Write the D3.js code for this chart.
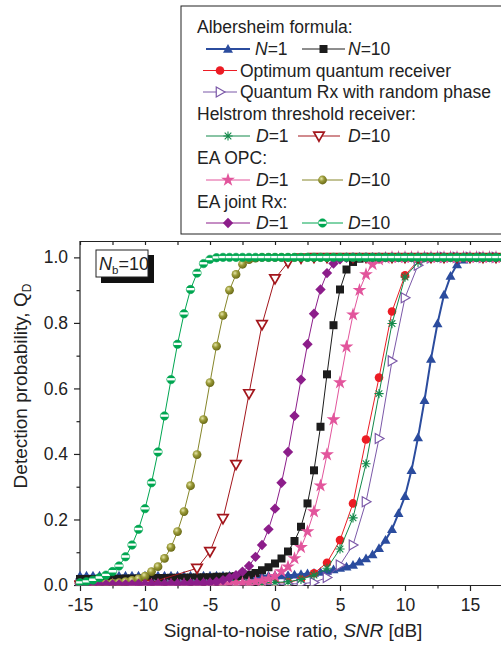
<!DOCTYPE html>
<html>
<head>
<meta charset="utf-8">
<script src="https://cdn.jsdelivr.net/npm/d3@7"></script>
<style>
  body { margin: 0; background: #fff; }
  svg { display: block; font-family: "Liberation Sans", Arial, sans-serif; }
</style>
</head>
<body>
<div id="chart"></div>
<script>
// SNR grids [dB]
var snrFine = [
  -15, -14.5, -14, -13.5, -13, -12.5, -12, -11.5, -11, -10.5,
  -10, -9.5, -9, -8.5, -8, -7.5, -7, -6.5, -6, -5.5,
  -5, -4.5, -4, -3.5, -3, -2.5, -2, -1.5, -1, -0.5,
  0, 0.5, 1, 1.5, 2, 2.5, 3, 3.5, 4, 4.5,
  5, 5.5, 6, 6.5, 7, 7.5, 8, 8.5, 9, 9.5,
  10, 10.5, 11, 11.5, 12, 12.5, 13, 13.5, 14, 14.5,
  15, 15.5, 16, 16.5, 17, 17.5
];
var snrCoarse = [
  -15, -14, -13, -12, -11,
  -10, -9, -8, -7, -6,
  -5, -4, -3, -2, -1,
  0, 1, 2, 3, 4,
  5, 6, 7, 8, 9,
  10, 11, 12, 13, 14,
  15, 16, 17
];
var snrHelstrom10 = [
  -15, -10, -6,
  -5, -4, -3, -2, -1,
  0, 1, 2, 3, 4,
  5, 6, 7, 8, 9,
  10, 11, 12, 13, 14,
  15, 16, 17
];

// detection probability Q_D
var albN1 = [
  .028, .028, .028, .028, .028, .028, .028, .028, .028, .028,
  .028, .028, .028, .028, .028, .028, .028, .028, .028, .028,
  .028, .028, .028, .028, .028, .028, .028, .028, .028, .028,
  .029, .029, .030, .031, .033, .035, .037, .040, .043, .047,
  .052, .056, .061, .071, .081, .093, .112, .137, .170, .219,
  .271, .350, .450, .564, .690, .798, .886, .943, .978, .993,
  .998, 1, 1, 1, 1, 1
];
var albN10 = [
  .018, .018, .018, .019, .019, .019, .019, .020, .020, .020,
  .020, .021, .021, .021, .022, .022, .022, .023, .023, .024,
  .024, .025, .025, .026, .027, .028, .031, .037, .045, .054,
  .066, .081, .102, .134, .178, .249, .350, .483, .643, .793,
  .902, .963, .986, .996, 1, 1, 1, 1, 1, 1,
  1, 1, 1, 1, 1, 1, 1, 1, 1, 1,
  1, 1, 1, 1, 1, 1
];
var optimumRx = [
  .001, .001, .001, .001, .001,
  .002, .002, .002, .002, .003,
  .003, .003, .004, .004, .005,
  .006, .008, .017, .036, .068,
  .137, .249, .444, .633, .835,
  .945, .990, .999, 1, 1,
  1, 1, 1
];
var randomPhase = [
  0, 0, 0, 0, 0,
  0, 0, .001, .001, .001,
  .001, .001, .001, .002, .002,
  .002, .003, .004, .008, .023,
  .061, .122, .254, .447, .684,
  .877, .976, .998, 1, 1,
  1, 1, 1
];
var helstromD1 = [
  0, 0, .001, .001, .001,
  .001, .002, .002, .002, .003,
  .003, .004, .005, .006, .007,
  .008, .010, .017, .030, .051,
  .110, .205, .370, .584, .798,
  .940, .985, .998, 1, 1,
  1, 1, 1
];
var helstromD10 = [
  0, .002, .051,
  .102, .203, .368, .584, .795,
  .935, .985, .998, 1, 1,
  1, 1, 1, 1, 1,
  1, 1, 1, 1, 1,
  1, 1, 1
];
var eaOpcD1 = [
  0, 0, 0, .001, .001, .001, .001, .001, .001, .001,
  .001, .001, .001, .001, .001, .001, .002, .002, .002, .002,
  .002, .003, .003, .004, .005, .006, .007, .010, .014, .019,
  .027, .041, .056, .081, .115, .163, .224, .303, .398, .505,
  .618, .727, .825, .900, .948, .979, .993, .998, 1, 1,
  1, 1, 1, 1, 1, 1, 1, 1, 1, 1,
  1, 1, 1, 1, 1, 1
];
var eaOpcD10 = [
  .002, .003, .003, .004, .005, .006, .007, .010, .014, .019,
  .027, .041, .056, .081, .115, .163, .224, .303, .398, .505,
  .618, .729, .823, .900, .948, .979, .993, .998, 1, 1,
  1, 1, 1, 1, 1, 1, 1, 1, 1, 1,
  1, 1, 1, 1, 1, 1, 1, 1, 1, 1,
  1, 1, 1, 1, 1, 1, 1, 1, 1, 1,
  1, 1, 1, 1, 1, 1
];
var eaJointD1 = [
  .001, .001, .001, .001, .002, .002, .002, .002, .002, .003,
  .003, .003, .003, .003, .004, .004, .004, .005, .005, .006,
  .007, .010, .015, .022, .030, .041, .058, .086, .122, .170,
  .233, .312, .406, .516, .627, .735, .828, .902, .952, .981,
  .994, .999, 1, 1, 1, 1, 1, 1, 1, 1,
  1, 1, 1, 1, 1, 1, 1, 1, 1, 1,
  1, 1, 1, 1, 1, 1
];
var eaJointD10 = [
  .007, .010, .015, .022, .030, .041, .058, .086, .122, .170,
  .233, .312, .406, .516, .627, .735, .828, .902, .952, .981,
  .994, .999, 1, 1, 1, 1, 1, 1, 1, 1,
  1, 1, 1, 1, 1, 1, 1, 1, 1, 1,
  1, 1, 1, 1, 1, 1, 1, 1, 1, 1,
  1, 1, 1, 1, 1, 1, 1, 1, 1, 1,
  1, 1, 1, 1, 1, 1
];

var xMajor = [-15, -10, -5, 0, 5, 10, 15];
var xMinor = [-12.5, -7.5, -2.5, 2.5, 7.5, 12.5];
var yMajor = [0, 0.2, 0.4, 0.6, 0.8, 1.0];
var yMinor = [0.1, 0.3, 0.5, 0.7, 0.9];

const w = 501;
const h = 645;

const x = d3.scaleLinear().domain([-15, 17.5]).range([80, 502.5]);
const y = d3.scaleLinear().domain([0, 1.05]).range([585, 241]);

const svg = d3.select('#chart')
  .append('svg')
  .attr('width', w)
  .attr('height', h);

const defs = svg.append('defs');
const grad = defs.append('radialGradient')
  .attr('id', 'sphere')
  .attr('cx', '38%').attr('cy', '35%').attr('r', '65%');
grad.append('stop').attr('offset', '0%').attr('stop-color', '#e6e6a8');
grad.append('stop').attr('offset', '45%').attr('stop-color', '#9a9a38');
grad.append('stop').attr('offset', '100%').attr('stop-color', '#6b6b18');

defs.append('clipPath').attr('id', 'plotClip')
  .append('rect').attr('x', 74).attr('y', 236).attr('width', 440).attr('height', 349.5);

// marker shapes, s = half size
function markerPath(type, s) {
  switch (type) {
    case 'triUp': return `M0,${-s}L${s},${s * 0.75}L${-s},${s * 0.75}Z`;
    case 'triDown': return `M0,${s}L${s},${-s * 0.75}L${-s},${-s * 0.75}Z`;
    case 'triRight': return `M${s},0L${-s * 0.75},${s}L${-s * 0.75},${-s}Z`;
    case 'square': return `M${-s},${-s}h${2 * s}v${2 * s}h${-2 * s}Z`;
    case 'diamond': return `M0,${-s * 1.15}L${s * 1.15},0L0,${s * 1.15}L${-s * 1.15},0Z`;
    case 'star': return d3.symbol(d3.symbolStar, s * s * 3.2)();
    case 'circle': return d3.symbol(d3.symbolCircle, Math.PI * s * s)();
    case 'asterisk': {
      var d = s * 0.72;
      return `M${-s},0H${s}M0,${-s}V${s}M${-d},${-d}L${d},${d}M${-d},${d}L${d},${-d}`;
    }
  }
}

function drawMarker(g, cfg) {
  var s = cfg.size;
  if (cfg.marker === 'half') {
    g.append('path').attr('d', markerPath('circle', s))
      .attr('fill', cfg.color).attr('stroke', cfg.color).attr('stroke-width', 0.6);
    g.append('path').attr('d', `M${-s * 0.92},${-s * 0.35}H${s * 0.92}V${s * 0.2}H${-s * 0.92}Z`)
      .attr('fill', '#fff');
    return;
  }
  if (cfg.marker === 'sphere') {
    g.append('path').attr('d', markerPath('circle', s)).attr('fill', 'url(#sphere)');
    return;
  }
  var p = g.append('path').attr('d', markerPath(cfg.marker, s));
  if (cfg.marker === 'asterisk') {
    p.attr('fill', 'none').attr('stroke', cfg.color).attr('stroke-width', 1.1);
  } else if (cfg.open) {
    p.attr('fill', '#fff').attr('stroke', cfg.color).attr('stroke-width', cfg.mStroke || 1.2);
  } else {
    p.attr('fill', cfg.color);
  }
}

var series = [
  { xs: snrFine, ys: albN1, color: '#2b4c9e', lw: 2, marker: 'triUp', size: 5 },
  { xs: snrFine, ys: albN10, color: '#1c1c1c', lw: 1, marker: 'square', size: 4 },
  { xs: snrCoarse, ys: optimumRx, color: '#ec1c24', lw: 1, marker: 'circle', size: 4.3 },
  { xs: snrCoarse, ys: randomPhase, color: '#7b58a8', lw: 1, marker: 'triRight', size: 5, open: true },
  { xs: snrCoarse, ys: helstromD1, color: '#13894a', lw: 1, marker: 'asterisk', size: 4.6 },
  { xs: snrHelstrom10, ys: helstromD10, color: '#a3161c', lw: 1, marker: 'triDown', size: 5.2, open: true, mStroke: 1.7 },
  { xs: snrFine, ys: eaOpcD1, color: '#e2559c', lw: 1, marker: 'star', size: 4.3 },
  { xs: snrFine, ys: eaOpcD10, color: '#86862a', lw: 1, marker: 'sphere', size: 4.4 },
  { xs: snrFine, ys: eaJointD1, color: '#8c1d8a', lw: 1, marker: 'diamond', size: 4.5 },
  { xs: snrFine, ys: eaJointD10, color: '#00a651', lw: 1, marker: 'half', size: 4.2 }
];

// axes
const axisColor = '#222';
function styleAxis(g, fontSize) {
  g.selectAll('path, line').attr('stroke', axisColor).attr('stroke-width', 1.2);
  g.selectAll('text').attr('fill', '#222').attr('font-size', fontSize)
    .attr('font-family', '"Liberation Sans", Arial, sans-serif');
}

const gx = svg.append('g').attr('transform', 'translate(0,585)')
  .call(d3.axisBottom(x).tickValues(xMajor).tickSize(6).tickSizeOuter(0)
    .tickPadding(5).tickFormat(d => String(d)));
styleAxis(gx, 17.5);
gx.selectAll('text').attr('dy', '0.85em');
const gxm = svg.append('g').attr('transform', 'translate(0,585)')
  .call(d3.axisBottom(x).tickValues(xMinor).tickSize(3.5).tickFormat(''));
gxm.select('.domain').remove();
styleAxis(gxm, 17.5);

const gtop = svg.append('g').attr('transform', 'translate(0,241)')
  .call(d3.axisBottom(x).tickValues(xMajor.concat(xMinor)).tickSize(4).tickSizeOuter(0).tickFormat(''));
styleAxis(gtop, 17.5);

const gy = svg.append('g').attr('transform', 'translate(80,0)')
  .call(d3.axisLeft(y).tickValues(yMajor).tickSize(6).tickSizeOuter(0)
    .tickPadding(6).tickFormat(d3.format('.1f')));
styleAxis(gy, 17.5);
gy.select('.domain').attr('d', `M0,${y(0)}V241`);
const gym = svg.append('g').attr('transform', 'translate(80,0)')
  .call(d3.axisLeft(y).tickValues(yMinor).tickSize(3.5).tickFormat(''));
gym.select('.domain').remove();
styleAxis(gym, 17.5);

// curves
const plot = svg.append('g').attr('clip-path', 'url(#plotClip)');
series.forEach(function(cfg) {
  var pts = cfg.xs.map((v, i) => [v, cfg.ys[i]]);
  plot.append('path')
    .datum(pts)
    .attr('fill', 'none')
    .attr('stroke', cfg.color)
    .attr('stroke-width', cfg.lw)
    .attr('d', d3.line().x(d => x(d[0])).y(d => y(d[1])));
  plot.selectAll(null)
    .data(pts)
    .enter()
    .append('g')
    .attr('transform', d => `translate(${x(d[0])},${y(d[1])})`)
    .each(function() { drawMarker(d3.select(this), cfg); });
});

// N_b label box
svg.append('rect').attr('x', 101).attr('y', 255).attr('width', 53).attr('height', 28).attr('fill', '#111');
svg.append('rect').attr('x', 96).attr('y', 250).attr('width', 52).attr('height', 27)
  .attr('fill', '#fff').attr('stroke', '#222').attr('stroke-width', 1);
const nb = svg.append('text').attr('x', 99).attr('y', 270).attr('font-size', 18).attr('fill', '#222');
nb.append('tspan').attr('font-style', 'italic').text('N');
nb.append('tspan').attr('font-size', 11.5).attr('dy', 4).text('b');
nb.append('tspan').attr('dy', -4).text('=10');

// axis titles
const xt = svg.append('text').attr('x', 293).attr('y', 637).attr('text-anchor', 'middle')
  .attr('font-size', 19).attr('fill', '#222');
xt.append('tspan').text('Signal-to-noise ratio, ');
xt.append('tspan').attr('font-style', 'italic').text('SNR');
xt.append('tspan').text(' [dB]');

const yt = svg.append('text').attr('transform', 'translate(27,386) rotate(-90)')
  .attr('text-anchor', 'middle').attr('font-size', 19).attr('fill', '#222');
yt.append('tspan').text('Detection probability, Q');
yt.append('tspan').attr('font-size', 12).attr('dy', 4).text('D');

// legend
const lg = svg.append('g');
lg.append('rect').attr('x', 181).attr('y', 6).attr('width', 325).attr('height', 228)
  .attr('fill', '#fff').attr('stroke', '#222').attr('stroke-width', 1);

function legendText(xp, yp, parts) {
  var t = lg.append('text').attr('x', xp).attr('y', yp).attr('font-size', 17.5).attr('fill', '#222');
  parts.forEach(function(p) {
    var s = t.append('tspan').text(p[0]);
    if (p[1]) s.attr('font-style', 'italic');
  });
}
function legendSample(cfg, x1, x2, yp) {
  lg.append('line').attr('x1', x1).attr('x2', x2).attr('y1', yp).attr('y2', yp)
    .attr('stroke', cfg.color).attr('stroke-width', cfg.lw);
  var g = lg.append('g').attr('transform', `translate(${(x1 + x2) / 2},${yp})`);
  drawMarker(g, cfg);
}

var rows = [33, 55, 76.5, 98, 120, 142, 164, 186, 207.5, 229];
legendText(197, rows[0], [['Albersheim formula:']]);
legendSample(series[0], 206, 250, rows[1] - 6);
legendText(255, rows[1], [['N', true], ['=1']]);
legendSample(series[1], 302, 345, rows[1] - 6);
legendText(348, rows[1], [['N', true], ['=10']]);
legendSample(series[2], 203, 237, rows[2] - 6);
legendText(240, rows[2], [['Optimum quantum receiver']]);
legendSample(series[3], 203, 237, rows[3] - 6);
legendText(240, rows[3], [['Quantum Rx with random phase']]);
legendText(197, rows[4], [['Helstrom threshold receiver:']]);
legendSample(series[4], 206, 250, rows[5] - 6);
legendText(256, rows[5], [['D', true], ['=1']]);
legendSample(series[5], 298, 340, rows[5] - 6);
legendText(348, rows[5], [['D', true], ['=10']]);
legendText(197, rows[6], [['EA OPC:']]);
legendSample(series[6], 206, 250, rows[7] - 6);
legendText(256, rows[7], [['D', true], ['=1']]);
legendSample(series[7], 302, 343, rows[7] - 6);
legendText(348, rows[7], [['D', true], ['=10']]);
legendText(197, rows[8], [['EA joint Rx:']]);
legendSample(series[8], 206, 250, rows[9] - 6);
legendText(256, rows[9], [['D', true], ['=1']]);
legendSample(series[9], 302, 343, rows[9] - 6);
legendText(348, rows[9], [['D', true], ['=10']]);
</script>
</body>
</html>
